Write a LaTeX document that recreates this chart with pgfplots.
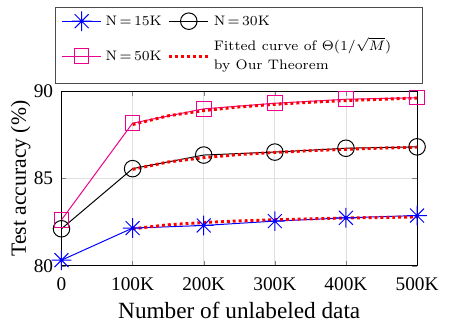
\documentclass[border={5.5pt 0pt 2.5pt 3.5pt}]{standalone}
\usepackage{pgfplots}
\pgfplotsset{compat=1.18}
\usepackage{fontspec}
\newfontfamily\tnr{Liberation Serif}
\pgfdeclareplotmark{mstar}{%
  \pgfpathmoveto{\pgfqpoint{-\pgfplotmarksize}{0pt}}\pgfpathlineto{\pgfqpoint{\pgfplotmarksize}{0pt}}%
  \pgfpathmoveto{\pgfqpoint{0pt}{-\pgfplotmarksize}}\pgfpathlineto{\pgfqpoint{0pt}{\pgfplotmarksize}}%
  \pgfpathmoveto{\pgfqpoint{-.7071\pgfplotmarksize}{-.7071\pgfplotmarksize}}\pgfpathlineto{\pgfqpoint{.7071\pgfplotmarksize}{.7071\pgfplotmarksize}}%
  \pgfpathmoveto{\pgfqpoint{-.7071\pgfplotmarksize}{.7071\pgfplotmarksize}}\pgfpathlineto{\pgfqpoint{.7071\pgfplotmarksize}{-.7071\pgfplotmarksize}}%
  \pgfusepathqstroke}
\begin{document}
\begin{tikzpicture}
\begin{axis}[
  scale only axis, width=180.5pt, height=88.5pt,
  xmin=0, xmax=500, ymin=80, ymax=90,
  xtick={0,100,200,300,400,500}, xticklabels={0,100K,200K,300K,400K,500K},
  ytick={80,85,90},
  grid=major, grid style={gray!25, line width=0.4pt},
  tick align=inside, major tick length=2.5pt,
  axis line style={line width=0.5pt},
  clip=false,
  xlabel={Number of unlabeled data}, ylabel={Test accuracy (\%)},
  xlabel style={font=\tnr\fontsize{11.8}{13}\selectfont, at={(axis description cs:0.5,0)}, anchor=base, yshift=-27pt, inner sep=1pt},
  ylabel style={font=\tnr\fontsize{11}{13}\selectfont, at={(axis description cs:-0.0859,0.5)}, anchor=south, inner sep=0pt},
  tick label style={font=\tnr\fontsize{9.8}{12}\selectfont},
  xticklabel style={yshift=-2.5pt},
  yticklabel style={xshift=-0.7pt},
  /pgf/number format/assume math mode=true,
  legend columns=2,
  legend image code/.code={\draw[mark repeat=2,mark phase=2] plot coordinates {(0cm,0cm)(0.35cm,0cm)(0.7cm,0cm)};},
  legend style={at={(0.5,1)}, anchor=south, yshift=4pt, font=\fontsize{7}{9.7}\selectfont,
    draw=gray!60!black, line width=0.5pt, cells={anchor=west}, row sep=1pt, inner ysep=2pt,
    nodes={text depth=},
    /tikz/every even column/.append style={column sep=1pt}},
]
\addplot[blue, mark=mstar, mark size=5pt, line width=0.5pt] coordinates {
  (0,80.32) (100,82.16) (200,82.31) (300,82.56) (400,82.75) (500,82.88)};
\addlegendentry{N\,=\,15K}
\addplot[black, mark=o, mark size=4.2pt, line width=0.5pt] coordinates {
  (0,82.12) (100,85.57) (200,86.35) (300,86.52) (400,86.74) (500,86.82)};
\addlegendentry{N\,=\,30K}
\addplot[magenta, mark=square, mark size=3.7pt, line width=0.5pt] coordinates {
  (0,82.63) (100,88.18) (200,89.00) (300,89.32) (400,89.55) (500,89.64)};
\addlegendentry{N\,=\,50K}
\addplot[red, line width=1.5pt, dash pattern=on 1.5pt off 1.5pt] coordinates {
  (100,82.12) (150,82.35) (200,82.48) (250,82.57) (300,82.64) (350,82.69) (400,82.74) (450,82.77) (500,82.80)};
\addlegendentry{\begin{tabular}{@{}l@{\hspace{11pt}}}Fitted curve of $\Theta(1/\sqrt{M})$\\by Our Theorem\end{tabular}}
\addplot[red, line width=1.5pt, dash pattern=on 1.5pt off 1.5pt, forget plot] coordinates {
  (100,85.53) (150,85.95) (200,86.20) (250,86.38) (300,86.50) (350,86.60) (400,86.68) (450,86.75) (500,86.80)};
\addplot[red, line width=1.5pt, dash pattern=on 1.5pt off 1.5pt, forget plot] coordinates {
  (100,88.10) (150,88.60) (200,88.90) (250,89.11) (300,89.26) (350,89.38) (400,89.47) (450,89.55) (500,89.62)};
\end{axis}
\end{tikzpicture}
\end{document}
